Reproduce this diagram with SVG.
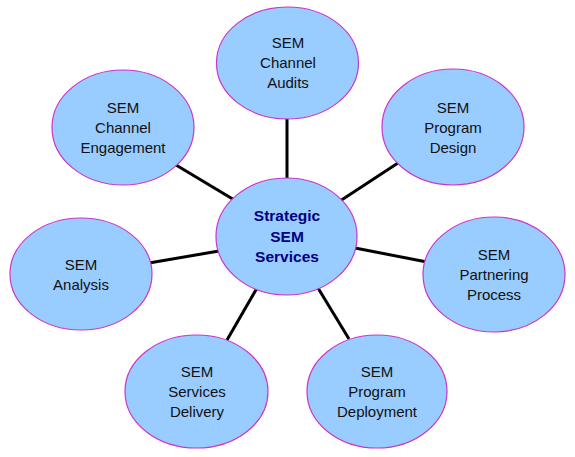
<svg xmlns="http://www.w3.org/2000/svg" width="575" height="457" viewBox="0 0 575 457">
<style>
.n{fill:#99ccff;stroke:#cc33cc;stroke-width:1.2}
.t{font-family:"Liberation Sans",Arial,sans-serif;font-size:15px;fill:#111;text-anchor:middle}
.c{font-family:"Liberation Sans",Arial,sans-serif;font-size:15.5px;font-weight:bold;fill:#000080;text-anchor:middle}
.e{stroke:#000;stroke-width:3;fill:none}
</style>
<rect width="575" height="457" fill="#fff"/>
<g id="connectors">
<line class="e" x1="287" y1="115" x2="287" y2="182"/>
<line class="e" x1="176" y1="165" x2="236" y2="201"/>
<line class="e" x1="398" y1="163" x2="340" y2="201"/>
<line class="e" x1="149" y1="263" x2="219" y2="251"/>
<line class="e" x1="427" y1="262" x2="355" y2="248"/>
<line class="e" x1="227" y1="340" x2="257" y2="288"/>
<line class="e" x1="349" y1="339" x2="318" y2="288"/>
</g>
<g id="center">
<ellipse class="n" cx="286.5" cy="236.5" rx="70.5" ry="58.5"/>
<text class="c" x="287" y="221">Strategic</text>
<text class="c" x="287" y="242">SEM</text>
<text class="c" x="287" y="262">Services</text>
</g>
<g id="audits">
<ellipse class="n" cx="287.5" cy="63" rx="71" ry="56"/>
<text class="t" x="288" y="48">SEM</text>
<text class="t" x="288" y="68">Channel</text>
<text class="t" x="288" y="88">Audits</text>
</g>
<g id="engagement">
<ellipse class="n" cx="123" cy="127.5" rx="71" ry="57.5"/>
<text class="t" x="123" y="113">SEM</text>
<text class="t" x="123" y="133">Channel</text>
<text class="t" x="123" y="153">Engagement</text>
</g>
<g id="design">
<ellipse class="n" cx="453" cy="127" rx="71" ry="58"/>
<text class="t" x="453" y="113">SEM</text>
<text class="t" x="453" y="133">Program</text>
<text class="t" x="453" y="153">Design</text>
</g>
<g id="analysis">
<ellipse class="n" cx="81" cy="274" rx="71" ry="56"/>
<text class="t" x="81" y="270">SEM</text>
<text class="t" x="81" y="290">Analysis</text>
</g>
<g id="partnering">
<ellipse class="n" cx="494" cy="274.5" rx="71" ry="57.5"/>
<text class="t" x="494" y="260">SEM</text>
<text class="t" x="494" y="280">Partnering</text>
<text class="t" x="494" y="300">Process</text>
</g>
<g id="delivery">
<ellipse class="n" cx="196.5" cy="391.5" rx="71.5" ry="56.5"/>
<text class="t" x="197" y="377">SEM</text>
<text class="t" x="197" y="397">Services</text>
<text class="t" x="197" y="417">Delivery</text>
</g>
<g id="deployment">
<ellipse class="n" cx="377" cy="391.5" rx="70" ry="56.5"/>
<text class="t" x="377" y="377">SEM</text>
<text class="t" x="377" y="397">Program</text>
<text class="t" x="377" y="417">Deployment</text>
</g>
</svg>
